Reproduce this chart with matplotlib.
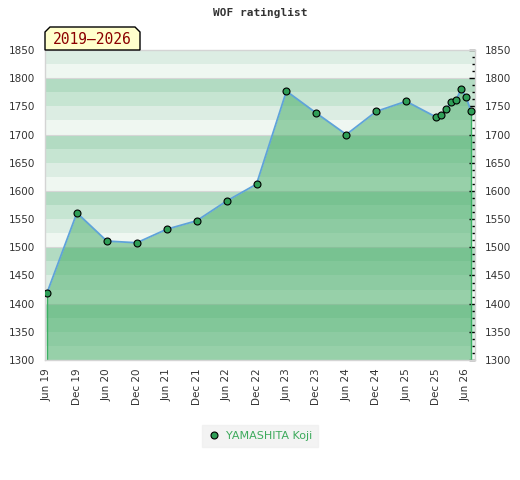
import numpy as np
import matplotlib
matplotlib.use("Agg")
from matplotlib import pyplot as plt
from matplotlib.patches import Polygon
from matplotlib.ticker import MultipleLocator

# Data: rating list dates (year, month) and rating values
dates = ["2019-06", "2019-12", "2020-06", "2020-12", "2021-06", "2021-12",
         "2022-06", "2022-12", "2023-06", "2023-12", "2024-06", "2024-12",
         "2025-06", "2025-12", "2026-01", "2026-02", "2026-03", "2026-04",
         "2026-05", "2026-06", "2026-07"]
ratings = [1419, 1561, 1511, 1508, 1532, 1547, 1582, 1612, 1777, 1738, 1700,
           1741, 1759, 1731, 1734, 1745, 1757, 1761, 1780, 1767, 1741]

tick_labels = ["Jun 19", "Dec 19", "Jun 20", "Dec 20", "Jun 21", "Dec 21", "Jun 22",
               "Dec 22", "Jun 23", "Dec 23", "Jun 24", "Dec 24", "Jun 25", "Dec 25",
               "Jun 26"]
player = "YAMASHITA Koji"
period = "2019\u20132026"


def month_index(s):
    y, m = s.split("-")
    return (int(y) - 2019) * 12 + int(m) - 6


x = np.array([month_index(d) for d in dates])
y = np.array(ratings)
ymin, ymax = 1300, 1850

fig = plt.figure(figsize=(5.2, 4.8), dpi=100)
ax = fig.add_axes([45 / 520, 1 - 360 / 480, 430 / 520, 310 / 480])
ax.set_xlim(-0.4, 85.8)
ax.set_ylim(ymin, ymax)

# striped background bands of 25
band_colors = ["#eff7f1", "#dcede3", "#c6e5d2", "#b2dbc2"]
for i, b in enumerate(range(ymin, ymax, 25)):
    ax.axhspan(b, b + 25, color=band_colors[i % 4], lw=0, zorder=0)
for g in range(ymin + 100, ymax, 100):
    ax.axhline(g, color="#d6d6d6", lw=0.8, zorder=0.5)

# filled area and line
ax.fill_between(x, y, ymin, color="#40ab62", alpha=0.5, lw=0, zorder=1)
ax.vlines([x[0], x[-1]], ymin, [y[0], y[-1]], color="#3cb064", lw=1, zorder=2)
ax.plot(x, y, color="#5fa3d9", lw=1.3, zorder=3)
ax.plot(x, y, "o", ms=5, mfc="#2f9e57", mec="black", mew=0.8, zorder=4,
        label=player)

# axes styling
for s in ["left", "bottom", "top", "right"]:
    ax.spines[s].set_color("#d4d4d4")
    ax.spines[s].set_linewidth(1)

ax.set_xticks(np.arange(0, 85, 6))
ax.set_xticklabels(tick_labels, rotation=90, fontsize=7.5, color="#333333")
ax.tick_params(axis="x", length=0, pad=6)

ax.yaxis.set_major_locator(MultipleLocator(50))
ax.yaxis.set_minor_locator(MultipleLocator(12.5))
ax.tick_params(axis="y", which="both", left=False, right=True, labelleft=True,
               labelright=True, direction="in", color="black", labelsize=7.5,
               labelcolor="#333333", pad=7)
ax.tick_params(axis="y", which="major", length=4, width=1)
ax.tick_params(axis="y", which="minor", length=2.5, width=1)
ax.tick_params(axis="y", which="major", right=True, pad=7)

fig.text(0.5, 1 - 13 / 480, "WOF ratinglist", ha="center", va="center",
         family="DejaVu Sans Mono", weight="bold", fontsize=8, color="#333333")

# period label box with chamfered top corners
bx0, bx1, by0, by1, c = 45, 140, 50, 27, 5
pts = [(bx0, by0), (bx0, by1 + c), (bx0 + c, by1), (bx1 - c, by1), (bx1, by1 + c), (bx1, by0)]
poly = Polygon([(px / 520, 1 - py / 480) for px, py in pts], closed=True,
               transform=fig.transFigure, facecolor="#ffffcc", edgecolor="black", lw=1)
fig.patches.append(poly)
fig.text((bx0 + bx1) / 2 / 520, 1 - 39 / 480, period, ha="center", va="center",
         family="DejaVu Sans Mono", fontsize=10.5, color="#8b0000")

leg = fig.legend(loc="center", bbox_to_anchor=(260 / 520, 1 - 436 / 480),
                 fontsize=8, frameon=True, fancybox=False, handletextpad=0.5,
                 borderpad=0.5, handlelength=1.2)
leg.get_frame().set_facecolor("#f0f0f0")
leg.get_frame().set_edgecolor("#f0f0f0")
for t in leg.get_texts():
    t.set_color("#3daa5c")

fig.savefig("out.png", dpi=100)
